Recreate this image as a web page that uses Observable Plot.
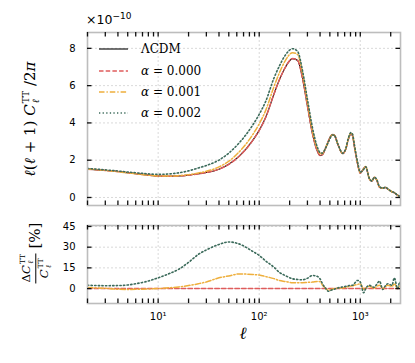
<!DOCTYPE html>
<html><head><meta charset="utf-8">
<script src="https://cdn.jsdelivr.net/npm/d3@7"></script>
<script src="https://cdn.jsdelivr.net/npm/@observablehq/plot@0.6"></script>
<style>
body{margin:0;background:#fff;}
#wrap{position:relative;width:415px;height:363px;overflow:hidden;font-family:"DejaVu Sans";background:#fff;}
#wrap svg{position:absolute;left:0;}
.ctr{position:absolute;white-space:nowrap;transform:translate(-50%,-50%) rotate(-90deg);font-family:"DejaVu Serif";color:#000;line-height:1;}
.ss{display:inline-flex;flex-direction:column;vertical-align:middle;font-size:0.62em;line-height:1.05;font-style:normal;margin-left:1px;}
.frac{display:inline-flex;flex-direction:column;vertical-align:middle;align-items:center;font-size:0.78em;}
.frac .num{border-bottom:1px solid #000;padding:0 1px 1px 1px;}
.frac .den{padding-top:1px;}
.leg{position:absolute;left:99px;height:16px;display:flex;align-items:center;font-family:"DejaVu Serif";font-size:12px;}
.leg svg{position:static !important;margin-right:13px;}
</style></head><body><div id="wrap"></div>
<script>
// ---- data ----
const ell = [2,3,4,5,6,8,10,13,16,20,25,30,40,50,63,86,100,116,140,158,180,214,240,268,300,337,378,400,423,450,485,530,553,600,670,720,760,810,840,870,940,1000,1080,1130,1230,1300,1380,1450,1550,1670,1770,1870,2060,2170,2340,2460,2500];
// l(l+1)C_l/2pi in units of 1e-10
const lcdm = [1.52,1.45,1.39,1.33,1.28,1.20,1.15,1.14,1.16,1.20,1.27,1.34,1.52,1.78,2.20,3.05,3.60,4.30,5.55,6.30,6.95,7.45,7.35,6.40,4.90,3.40,2.45,2.25,2.30,2.60,3.05,3.38,3.35,2.85,2.35,2.60,3.10,3.40,3.30,2.80,1.80,1.30,1.55,1.65,1.00,0.88,1.08,0.95,0.55,0.50,0.54,0.45,0.30,0.25,0.12,0.07,0.05];
const alpha000 = [1.52,1.45,1.39,1.33,1.28,1.20,1.15,1.14,1.16,1.20,1.27,1.34,1.52,1.78,2.20,3.05,3.60,4.30,5.55,6.30,6.95,7.45,7.35,6.40,4.90,3.40,2.45,2.25,2.30,2.60,3.05,3.38,3.35,2.85,2.35,2.60,3.10,3.40,3.30,2.80,1.80,1.30,1.55,1.65,1.00,0.88,1.08,0.95,0.55,0.50,0.54,0.45,0.30,0.25,0.12,0.07,0.05];
const alpha001 = [1.531,1.453,1.383,1.322,1.274,1.196,1.150,1.147,1.174,1.226,1.314,1.404,1.639,1.944,2.433,3.361,3.953,4.674,5.950,6.672,7.311,7.770,7.666,6.675,5.121,3.560,2.577,2.363,2.355,2.613,3.013,3.370,3.350,2.859,2.362,2.626,3.143,3.461,3.366,2.867,1.854,1.346,1.542,1.658,1.017,0.889,1.082,0.964,0.563,0.500,0.548,0.461,0.305,0.259,0.120,0.071,0.051];
const alpha002 = [1.556,1.480,1.421,1.365,1.325,1.266,1.240,1.265,1.322,1.428,1.585,1.715,2.006,2.382,2.913,3.874,4.464,5.160,6.410,7.043,7.610,7.979,7.835,6.810,5.268,3.723,2.663,2.408,2.381,2.613,2.992,3.353,3.333,2.864,2.378,2.642,3.162,3.482,3.379,2.898,1.906,1.361,1.504,1.650,1.024,0.893,1.091,0.979,0.580,0.497,0.551,0.466,0.307,0.270,0.120,0.073,0.052];
// relative difference [%]
const diff000 = [0,0,0,0,0,0,0,0,0,0,0,0,0,0,0,0,0,0,0,0,0,0,0,0,0,0,0,0,0,0,0,0,0,0,0,0,0,0,0,0,0,0,0,0,0,0,0,0,0,0,0,0,0,0,0,0,0];
const diff001 = [0.7,0.2,-0.5,-0.6,-0.5,-0.3,0,0.6,1.2,2.2,3.5,4.8,7.8,9.2,10.6,10.2,9.8,8.7,7.2,5.9,5.2,4.3,4.3,4.3,4.5,4.7,5.2,5.0,2.4,0.5,-1.2,-0.3,0,0.3,0.5,1.0,1.4,1.8,2.0,2.4,3.0,3.5,-0.5,0.5,1.7,1.0,0.2,1.5,2.4,0,1.5,2.4,1.5,3.5,0,1.9,1.5];
const diff002 = [2.4,2.1,2.2,2.6,3.5,5.5,7.8,11,14,19,24.8,28,32,33.8,32.4,27,24,20,15.5,11.8,9.5,7.1,6.6,6.4,7.5,9.5,8.7,7.0,3.5,0.5,-1.9,-0.8,-0.5,0.5,1.2,1.6,2.0,2.4,2.4,3.5,5.9,4.7,-3,0,2.4,1.5,1,3,5.4,-0.7,2,3.5,2.4,7.8,0,4.7,4];

const seriesNames = ["ΛCDM", "α = 0.000", "α = 0.001", "α = 0.002"];
const yTicksTop = [0, 2, 4, 6, 8];
const yTicksBot = [0, 15, 30, 45];
const xMajor = [10, 100, 1000];
const xMinor = [2,3,4,5,6,7,8,9,20,30,40,50,60,70,80,90,200,300,400,500,600,700,800,900,2000];
const xTickLabels = ["10¹", "10²", "10³"];

// ---- styles ----
const styles = {
  "ΛCDM":      {stroke: "#000000", dash: null, width: 1.1},
  "α = 0.000": {stroke: "#df5c5c", dash: "4.5,2.2", width: 1.5},
  "α = 0.001": {stroke: "#eeaf3c", dash: "5.5,2,1.3,2", width: 1.5},
  "α = 0.002": {stroke: "#3c6b5b", dash: "1.3,2.3", width: 1.6}
};

const topSeries = [lcdm, alpha000, alpha001, alpha002];
const topRows = seriesNames.map((s, k) => ell.map((l, i) => ({l, v: topSeries[k][i], s})));
const botSeries = [null, diff000, diff001, diff002];
const botRows = seriesNames.map((s, k) => botSeries[k] ? ell.map((l, i) => ({l, v: botSeries[k][i], s})) : []);

const W = 415, ML = 87, MR = 15;
const xDomain = [2, 2500];
const xOpt = {type: "log", domain: xDomain};
const gridStyle = {stroke: "#c8c8c8", strokeOpacity: 1, strokeWidth: 0.7, strokeDasharray: "2,2"};
const TS = 4.5; // inward tick length in px

// inward ticks on all four sides, expressed through the scales' domains
function tickMarks(yt, yDomain, innerH) {
  const innerW = W - ML - MR;
  const dy = TS * (yDomain[1] - yDomain[0]) / innerH;
  const fx = Math.pow(xDomain[1] / xDomain[0], TS / innerW);
  const xt = xMinor.concat(xMajor);
  const tk = {stroke: "#111111", strokeWidth: 1.3};
  return [
    Plot.ruleX(xt, {x: d => d, y1: yDomain[0], y2: yDomain[0] + dy, ...tk}),
    Plot.ruleX(xt, {x: d => d, y1: yDomain[1] - dy, y2: yDomain[1], ...tk}),
    Plot.ruleY(yt, {y: d => d, x1: xDomain[0], x2: xDomain[0] * fx, ...tk}),
    Plot.ruleY(yt, {y: d => d, x1: xDomain[1] / fx, x2: xDomain[1], ...tk}),
    Plot.axisY(yt, {anchor: "left", tickSize: 0, tickPadding: 12, label: null, fill: "#000"})
  ];
}
function lines(rows) {
  return rows.filter(r => r.length).map(r => {
    const st = styles[r[0].s];
    return Plot.line(r, {x: "l", y: "v", stroke: st.stroke, strokeWidth: st.width, strokeDasharray: st.dash, curve: "monotone-x", clip: true});
  });
}

const topY = [-0.43, 8.85];
const topPlot = Plot.plot({
  width: W, height: 210, marginLeft: ML, marginRight: MR, marginTop: 32, marginBottom: 5,
  style: {fontFamily: "DejaVu Sans", fontSize: "10px", color: "#000", background: "transparent"},
  x: {...xOpt, axis: null},
  y: {domain: topY},
  marks: [
    Plot.gridX(xMajor, gridStyle),
    Plot.gridY(yTicksTop, gridStyle),
    ...lines(topRows),
    Plot.frame({stroke: "#bdbdbd", strokeWidth: 1.6}),
    ...tickMarks(yTicksTop, topY, 210 - 32 - 5)
  ]
});
topPlot.style.top = "0px";

const botY = [-10.8, 45.7];
const botPlot = Plot.plot({
  width: W, height: 153, marginLeft: ML, marginRight: MR, marginTop: 15, marginBottom: 60,
  style: {fontFamily: "DejaVu Sans", fontSize: "10px", color: "#000", background: "transparent"},
  x: xOpt,
  y: {domain: botY},
  marks: [
    Plot.gridX(xMajor, gridStyle),
    Plot.gridY(yTicksBot, gridStyle),
    ...lines(botRows),
    Plot.frame({stroke: "#bdbdbd", strokeWidth: 1.6}),
    ...tickMarks(yTicksBot, botY, 153 - 15 - 60),
    Plot.axisX(xMajor, {anchor: "bottom", tickSize: 0, tickPadding: 9, label: null, fill: "#000",
      tickFormat: d => xTickLabels[xMajor.indexOf(d)]})
  ]
});
botPlot.style.top = "210px";

const wrap = document.getElementById("wrap");
wrap.appendChild(topPlot);
wrap.appendChild(botPlot);

const ex = document.createElement("div");
ex.style.cssText = "position:absolute;left:86px;top:12px;font-family:'DejaVu Sans';font-size:12.5px;line-height:1;";
ex.innerHTML = "×10<sup style='font-size:9px;vertical-align:5px'>−10</sup>";
wrap.appendChild(ex);

const yl1 = document.createElement("div");
yl1.className = "ctr";
yl1.style.cssText += "left:31px;top:119px;font-size:15px;";
yl1.innerHTML = "<i>ℓ</i>(<i>ℓ</i> + 1) <i>C</i><span class='ss'><span>TT</span><span><i>ℓ</i></span></span> /2<i>π</i>";
wrap.appendChild(yl1);

const yl2 = document.createElement("div");
yl2.className = "ctr";
yl2.style.cssText += "left:36px;top:253px;font-size:15px;";
yl2.innerHTML = "<span class='frac'><span class='num'>Δ<i>C</i><span class='ss'><span>TT</span><span><i>ℓ</i></span></span></span><span class='den'><i>C</i><span class='ss'><span>TT</span><span><i>ℓ</i></span></span></span></span> [%]";
wrap.appendChild(yl2);

const xl = document.createElement("div");
xl.style.cssText = "position:absolute;left:243px;top:333px;transform:translate(-50%,-50%);font-family:'DejaVu Serif';font-size:17px;font-style:italic;line-height:1;";
xl.textContent = "ℓ";
wrap.appendChild(xl);

const legY = [49, 70.7, 91.7, 113.3];
seriesNames.forEach((s, k) => {
  const st = styles[s];
  const d = document.createElement("div");
  d.className = "leg";
  d.style.top = (legY[k] - 8) + "px";
  const isAlpha = s.startsWith("α");
  const label = isAlpha ? "<i>α</i>" + s.slice(1) : s;
  d.innerHTML = `<svg width="29" height="16"><line x1="0" x2="29" y1="8" y2="8" stroke="${st.stroke}" stroke-width="${st.width}" ${st.dash ? `stroke-dasharray="${st.dash}"` : ""}/></svg><span>${label}</span>`;
  wrap.appendChild(d);
});
</script>
</body></html>
